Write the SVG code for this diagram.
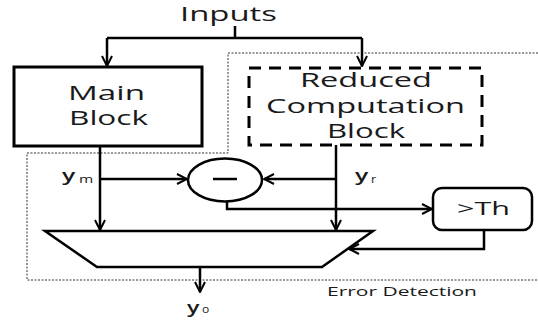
<svg xmlns="http://www.w3.org/2000/svg" width="538" height="321" viewBox="0 0 538 321">
<style>
.t{font-family:"Open Sans","DejaVu Sans",sans-serif;fill:#1a1a1a}
.v{font-family:"Open Sans","DejaVu Sans",sans-serif;fill:#1a1a1a;font-size:16px;font-weight:600}
.s{font-family:"Open Sans","DejaVu Sans",sans-serif;fill:#1a1a1a;font-size:11px}
.blk{fill:#fff;stroke:#000;stroke-width:3}
.ln{fill:none;stroke:#000;stroke-width:2.5}
.arr{marker-end:url(#ah)}
</style>
<defs>
<marker id="ah" markerUnits="userSpaceOnUse" viewBox="0 0 12 12" refX="11" refY="6" markerWidth="12" markerHeight="12" orient="auto">
<path d="M1,1 L11,6 L1,11" fill="none" stroke="#000" stroke-width="2"/>
</marker>
</defs>
<rect width="538" height="321" fill="#fff"/>
<g id="region">
<path d="M538,53 H228 V153 H27 V280 H538" fill="none" stroke="#333" stroke-width="1" stroke-dasharray="2,1.5"/>
<text class="t" x="327" y="296" font-size="13" textLength="150" lengthAdjust="spacingAndGlyphs">Error Detection</text>
</g>
<g id="inputs">
<text class="t" x="180" y="21" font-size="20" textLength="97" lengthAdjust="spacingAndGlyphs">Inputs</text>
</g>
<g id="main">
<rect class="blk" x="14" y="67" width="188" height="79"/>
<text class="t" x="68" y="100" font-size="20" textLength="77" lengthAdjust="spacingAndGlyphs">Main</text>
<text class="t" x="69" y="125" font-size="20" textLength="79" lengthAdjust="spacingAndGlyphs">Block</text>
</g>
<g id="reduced">
<rect x="249" y="68" width="233" height="77" fill="#fff" stroke="#000" stroke-width="3" stroke-dasharray="12,8"/>
<text class="t" x="300" y="87" font-size="20" textLength="132" lengthAdjust="spacingAndGlyphs">Reduced</text>
<text class="t" x="266" y="113" font-size="20" textLength="199" lengthAdjust="spacingAndGlyphs">Computation</text>
<text class="t" x="327" y="138" font-size="20" textLength="78" lengthAdjust="spacingAndGlyphs">Block</text>
</g>
<g id="sub">
<ellipse cx="225" cy="180" rx="37" ry="21.5" fill="#fff" stroke="#000" stroke-width="2.5"/>
<path d="M213,179 H237" stroke="#000" stroke-width="2.5"/>
</g>
<g id="th">
<rect x="433" y="188" width="99" height="42" rx="9" fill="#fff" stroke="#000" stroke-width="2.5"/>
<text class="t" x="457" y="215" font-size="19" textLength="53" lengthAdjust="spacingAndGlyphs">&gt;Th</text>
</g>
<g id="mux">
<path d="M45,231 H373 L322,267 H97 Z" fill="#fff" stroke="#000" stroke-width="2.5"/>
</g>
<g id="connectors">
<path class="ln" d="M235,26 V38"/>
<path class="ln" d="M107,38 H362"/>
<path class="ln arr" d="M107,38 V66"/>
<path class="ln arr" d="M362,38 V66"/>
<path class="ln arr" d="M100,146 V230"/>
<path class="ln arr" d="M100,179 H187"/>
<path class="ln arr" d="M336,145 V230"/>
<path class="ln arr" d="M336,179 H264"/>
<path class="ln arr" d="M227,202 V209 H432"/>
<path class="ln arr" d="M484,230 V249 H349"/>
<path class="ln arr" d="M200,267 V292"/>
</g>
<g id="labels">
<text class="v" transform="translate(62,181) scale(1.55,1)">y</text>
<text class="s" transform="translate(79,183) scale(1.4,1)">m</text>
<text class="v" transform="translate(355,181) scale(1.55,1)">y</text>
<text class="s" transform="translate(371,183) scale(1.15,1)">r</text>
<text class="v" transform="translate(187,313) scale(1.45,1)">y</text>
<text class="s" transform="translate(202,313) scale(1.1,1)">o</text>
</g>
</svg>
